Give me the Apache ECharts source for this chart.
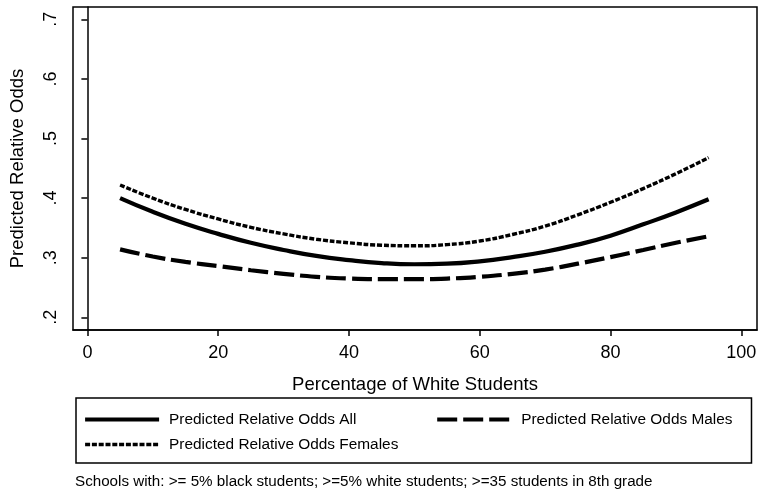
<!DOCTYPE html>
<html>
<head>
<meta charset="utf-8">
<script src="https://cdn.jsdelivr.net/npm/echarts@6/dist/echarts.min.js"></script>
<style>html,body{margin:0;padding:0;background:#fff}#c{width:765px;height:494px}</style>
</head>
<body>
<div id="c"></div>
<script>
const xValues = [5,10,15,20,25,30,35,40,45,50,55,60,65,70,75,80,85,90,95];
const oddsAll = [0.400,0.377,0.357,0.340,0.325,0.313,0.303,0.296,0.291,0.289,0.290,0.294,0.301,0.310,0.322,0.337,0.356,0.376,0.398];
const oddsMales = [0.314,0.302,0.293,0.286,0.279,0.273,0.268,0.265,0.264,0.264,0.265,0.268,0.273,0.280,0.290,0.301,0.313,0.325,0.336];
const oddsFemales = [0.422,0.400,0.381,0.365,0.351,0.340,0.331,0.325,0.321,0.320,0.322,0.328,0.339,0.353,0.372,0.393,0.416,0.441,0.468];
const xTicks = [0,20,40,60,80,100];
const yTicks = [0.2,0.3,0.4,0.5,0.6,0.7];
const yTickLabels = ['.2','.3','.4','.5','.6','.7'];
const seriesNames = ['Predicted Relative Odds All','Predicted Relative Odds Males','Predicted Relative Odds Females'];
const caption = 'Schools with: >= 5% black students; >=5% white students; >=35 students in 8th grade';

const FONT = '"Liberation Sans", Arial, sans-serif';
const pair = arr => xValues.map((x,i)=>[x,arr[i]]);

const chart = echarts.init(document.getElementById('c'), null, {renderer:'canvas'});
chart.setOption({
  backgroundColor:'#fff',
  animation:false,
  title:{text:caption,left:70,top:469,textStyle:{fontFamily:FONT,fontSize:15.2,fontWeight:'normal',color:'#000'}},
  grid:{left:73,right:8,top:7,bottom:164,show:true,borderColor:'#000',borderWidth:1.5,backgroundColor:'#fff'},
  legend:{
    left:76,top:398,width:670,
    padding:[13,19,10,7],
    itemGap:8,itemWidth:74,itemHeight:14,
    borderColor:'#000',borderWidth:1.5,
    itemStyle:{opacity:0,color:'transparent',borderWidth:0},
    lineStyle:{width:'inherit'},
    textStyle:{fontFamily:FONT,fontSize:15.4,color:'#000',lineHeight:17,padding:[0,0,0,5]},
    data:[
      {name:seriesNames[0],textStyle:{width:258}},
      {name:seriesNames[1]},
      {name:seriesNames[2]}
    ]
  },
  xAxis:{
    type:'value',min:-2.2,max:102.4,
    name:'Percentage of White Students',nameLocation:'middle',nameGap:45,
    nameTextStyle:{fontFamily:FONT,fontSize:18.5,color:'#000'},
    axisLine:{show:true,lineStyle:{color:'#000',width:1.5}},
    axisTick:{show:true,length:6,lineStyle:{color:'#000',width:1.5},customValues:xTicks},
    axisLabel:{customValues:xTicks,margin:14,fontFamily:FONT,fontSize:18,color:'#000'},
    splitLine:{show:false}
  },
  yAxis:{
    type:'value',min:0.1787,max:0.7207,
    name:'Predicted Relative Odds',nameLocation:'middle',nameGap:46,
    nameTextStyle:{fontFamily:FONT,fontSize:18.5,color:'#000'},
    axisLine:{show:true,lineStyle:{color:'#000',width:1.5}},
    axisTick:{show:true,length:6,lineStyle:{color:'#000',width:1.5},customValues:yTicks},
    axisLabel:{customValues:yTicks,rotate:90,margin:13,fontFamily:FONT,fontSize:18,color:'#000',
      formatter:v=>{const i=yTicks.findIndex(t=>Math.abs(t-v)<1e-6);return i>=0?yTickLabels[i]:'';}},
    splitLine:{show:false}
  },
  series:[
    {name:seriesNames[0],type:'line',data:pair(oddsAll),symbol:'none',smooth:true,
     itemStyle:{color:'#000'},lineStyle:{color:'#000',width:4.2,type:'solid'}},
    {name:seriesNames[1],type:'line',data:pair(oddsMales),symbol:'none',smooth:true,
     itemStyle:{color:'#000'},lineStyle:{color:'#000',width:4.2,type:[20,6]}},
    {name:seriesNames[2],type:'line',data:pair(oddsFemales),symbol:'none',smooth:true,
     itemStyle:{color:'#000'},lineStyle:{color:'#000',width:3.4,type:[5,1.8]}}
  ]
});
</script>
</body>
</html>
